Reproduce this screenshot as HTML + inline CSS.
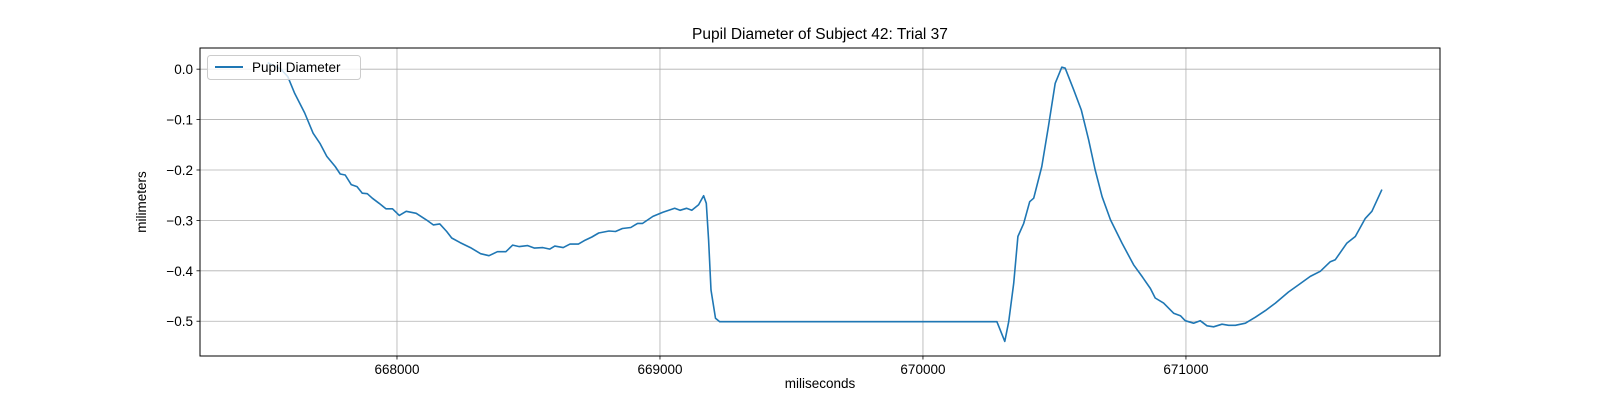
<!DOCTYPE html>
<html><head><meta charset="utf-8"><style>
body{margin:0;background:#fff;width:1600px;height:400px;overflow:hidden}
svg{display:block;font-family:"Liberation Sans","DejaVu Sans",sans-serif}
</style></head><body>
<svg id="chart" width="1600" height="400">
<rect x="0" y="0" width="1600" height="400" fill="#fff"/>
<g id="grid"></g>
<g id="line"></g>
<rect x="200" y="48" width="1240" height="308" fill="none" stroke="#000" stroke-width="1"/>
<g id="ticks"></g>
<text x="820" y="39" text-anchor="middle" font-size="15.5" fill="#000">Pupil Diameter of Subject 42: Trial 37</text>
<text x="820" y="388" text-anchor="middle" font-size="13.5" fill="#000">miliseconds</text>
<text x="146" y="202" text-anchor="middle" font-size="13.5" fill="#000" transform="rotate(-90 146 202)">milimeters</text>
<g>
<rect x="207.5" y="55.5" width="153" height="24" rx="3" fill="#fff" fill-opacity="0.8" stroke="#ccc"/>
<line x1="215" y1="67" x2="243" y2="67" stroke="#1f77b4" stroke-width="2"/>
<text x="252" y="72" font-size="13.5" fill="#000">Pupil Diameter</text>
</g>
</svg>
<script>
const times=[667508,667559,667585,667611,667649,667681,667707,667733,667765,667784,667803,667826,667848,667868,667887,667906,667932,667958,667983,668009,668035,668073,668112,668138,668163,668189,668208,668240,668279,668318,668350,668382,668414,668440,668465,668497,668523,668555,668581,668600,668632,668658,668690,668716,668741,668767,668806,668831,668857,668889,668915,668934,668973,669011,669056,669076,669101,669121,669147,669166,669176,669185,669194,669211,669227,670281,670311,670326,670345,670361,670383,670406,670421,670452,670477,670503,670528,670541,670573,670602,670630,670655,670681,670713,670757,670801,670833,670865,670883,670915,670953,670979,670997,671029,671054,671080,671105,671137,671162,671188,671226,671264,671302,671340,671390,671428,671473,671511,671549,671568,671612,671644,671682,671707,671745];
const values=[0.013,0.0,-0.015,-0.048,-0.087,-0.127,-0.147,-0.173,-0.193,-0.208,-0.210,-0.229,-0.233,-0.246,-0.247,-0.256,-0.266,-0.277,-0.277,-0.290,-0.282,-0.286,-0.299,-0.309,-0.307,-0.322,-0.335,-0.344,-0.354,-0.366,-0.370,-0.362,-0.362,-0.349,-0.352,-0.350,-0.355,-0.354,-0.357,-0.351,-0.354,-0.347,-0.347,-0.339,-0.333,-0.325,-0.321,-0.322,-0.316,-0.314,-0.306,-0.306,-0.292,-0.284,-0.276,-0.280,-0.276,-0.280,-0.269,-0.251,-0.266,-0.339,-0.438,-0.494,-0.501,-0.501,-0.540,-0.501,-0.425,-0.332,-0.306,-0.263,-0.256,-0.193,-0.114,-0.028,0.004,0.002,-0.041,-0.081,-0.140,-0.200,-0.253,-0.299,-0.345,-0.388,-0.411,-0.435,-0.454,-0.464,-0.484,-0.489,-0.499,-0.504,-0.499,-0.509,-0.511,-0.506,-0.508,-0.508,-0.504,-0.492,-0.479,-0.464,-0.442,-0.428,-0.411,-0.401,-0.382,-0.378,-0.345,-0.332,-0.296,-0.282,-0.239];
const xTicks=[668000,669000,670000,671000];
const xTickLabels=["668000","669000","670000","671000"];
const yTicks=[0,-0.1,-0.2,-0.3,-0.4,-0.5];
const yTickLabels=["0.0","\u22120.1","\u22120.2","\u22120.3","\u22120.4","\u22120.5"];
const X0=200,X1=1440,Y0=48,Y1=356,xmin=667251,xmax=671966,ymin=-0.569,ymax=0.042;
function sx(t){return X0+(t-xmin)/(xmax-xmin)*(X1-X0);}
function sy(v){return Y1-(v-ymin)/(ymax-ymin)*(Y1-Y0);}
const NS="http://www.w3.org/2000/svg";
const grid=document.getElementById('grid'),ticks=document.getElementById('ticks'),lineG=document.getElementById('line');
function mk(tag,attrs,parent){const e=document.createElementNS(NS,tag);for(const k in attrs)e.setAttribute(k,attrs[k]);parent.appendChild(e);return e;}
xTicks.forEach((t,i)=>{const x=sx(t);
 const g=mk('line',{x1:x,x2:x,y1:Y0,y2:Y1,stroke:'#b0b0b0','stroke-width':0.8},grid);
 
 
 const tk=mk('line',{x1:x,x2:x,y1:Y1,y2:Y1+3.5,stroke:'#000','stroke-width':0.8},ticks);
 
 
 const tx=mk('text',{x:x,y:Y1+18,'text-anchor':'middle','font-size':13.5,fill:'#000'},ticks);
 tx.textContent=xTickLabels[i];
 
 
});
yTicks.forEach((v,i)=>{const y=sy(v);
 const g=mk('line',{x1:X0,x2:X1,y1:y,y2:y,stroke:'#b0b0b0','stroke-width':0.8},grid);
 
 
 const tk=mk('line',{x1:X0-3.5,x2:X0,y1:y,y2:y,stroke:'#000','stroke-width':0.8},ticks);
 
 
 const tx=mk('text',{x:X0-7,y:y+5,'text-anchor':'end','font-size':13.5,fill:'#000'},ticks);
 tx.textContent=yTickLabels[i];
 
 
});
let d='';
times.forEach((t,i)=>{d+=(i?'L':'M')+sx(t).toFixed(1)+','+sy(values[i]).toFixed(1);});
const p=mk('path',{d:d,fill:'none',stroke:'#1f77b4','stroke-width':1.6,'stroke-linejoin':'round'},lineG);


</script>
</body></html>
